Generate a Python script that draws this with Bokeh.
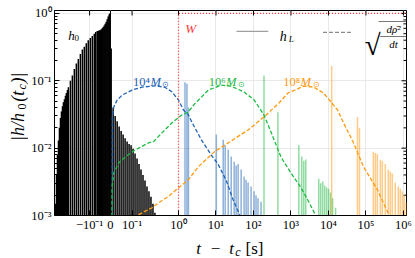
from math import log10, pi
from bokeh.plotting import figure
from bokeh.models import FixedTicker, Label
from bokeh.layouts import column, row
from bokeh.embed import file_html
from bokeh.resources import INLINE

# ---------------- data (t - t_c in s, |h/h0(t_c)|) ----------------
h0_t = [-0.543, -0.517, -0.492, -0.468, -0.446, -0.424, -0.404, -0.384, -0.366, -0.348,
        -0.331, -0.316, -0.300, -0.286, -0.259, -0.235, -0.213, -0.193, -0.175, -0.158,
        -0.143, -0.130, -0.118, -0.107, -0.0967, -0.0871, -0.0776, -0.0705, -0.0633, -0.0586,
        -0.0538, -0.0490, -0.0443, -0.0395, -0.0348, -0.0300, -0.0252, -0.0205, -0.0157,
        -0.0110, -0.0062, -0.0038, -0.0014,
        0.0032, 0.0124, 0.0217, 0.0309, 0.0401, 0.0493, 0.0585, 0.0677, 0.0770, 0.0862,
        0.0954, 0.1051, 0.1159, 0.1280, 0.1412, 0.1558, 0.1720, 0.1898, 0.2096, 0.2312,
        0.2552, 0.2817, 0.3108]
h0_h = [0.0015, 0.004, 0.008, 0.013, 0.02, 0.028, 0.035, 0.042, 0.048, 0.053,
        0.06, 0.066, 0.073, 0.08, 0.10, 0.12, 0.15, 0.18, 0.21, 0.25,
        0.29, 0.32, 0.36, 0.40, 0.43, 0.46, 0.50, 0.53, 0.55, 0.55,
        0.56, 0.56, 0.58, 0.60, 0.63, 0.66, 0.70, 0.75, 0.82,
        0.90, 0.96, 0.99, 1.0,
        0.3, 0.04, 0.03, 0.025, 0.021, 0.018, 0.016, 0.014, 0.0125, 0.0115,
        0.011, 0.0098, 0.0083, 0.007, 0.0058, 0.0048, 0.004, 0.0033, 0.0027, 0.0023,
        0.0019, 0.0015, 0.0011]

hL4_t = [1.49, 1.68, 1.84, 10.2, 15.6, 17.6, 21.2, 25.5, 30.6, 34.5, 39.0, 46.9, 56.3,
         63.6, 71.9, 86.3, 104, 117, 132, 159]
hL4_h = [0.095, 0.09, 0.04, 0.016, 0.0133, 0.011, 0.0095, 0.0075, 0.0063, 0.0055, 0.0058,
         0.0048, 0.0038, 0.0034, 0.0031, 0.0027, 0.0023, 0.0020, 0.0018, 0.0016]
hL6_t = [191, 449, 1620, 1945, 2200, 2485, 5500, 6210, 7020, 7930, 8960, 10100, 11400,
         12900, 15500]
hL6_h = [0.12, 0.034, 0.011, 0.0075, 0.0065, 0.0068, 0.0035, 0.003, 0.0032, 0.0028,
         0.0026, 0.0025, 0.0022, 0.0018, 0.0013]
hL8_t = [12200, 59500, 67300, 158000, 179000, 202000, 243000, 274000, 329000, 395000,
         447000, 505000, 606000, 728000, 822000, 929000, 1.05e6, 1.19e6]
hL8_h = [0.165, 0.029, 0.02, 0.0088, 0.0085, 0.0082, 0.0067, 0.0065, 0.0058, 0.0048,
         0.0045, 0.0042, 0.0031, 0.0027, 0.0025, 0.0023, 0.002, 0.0016]

rho4_t = [0.0069, 0.0088, 0.0157, 0.0309, 0.0539, 0.1, 0.1638, 0.3155, 0.5166, 0.7187, 1.0,
          1.357, 1.842, 2.3, 4.07, 7.50, 11.5, 18.8, 28.8, 41.5, 49.9]
rho4_h = [1e-4, 0.029, 0.0412, 0.0517, 0.0613, 0.0727, 0.0804, 0.0841, 0.0796, 0.0686, 0.0517,
          0.0368, 0.031, 0.024, 0.0133, 0.0079, 0.0057, 0.0033, 0.0017, 0.00107, 0.00082]
rho6_t = [0.0046, 0.0078, 0.0157, 0.0387, 0.0691, 0.1177, 0.2278, 0.2915, 0.4389, 0.7187,
          1.223, 1.842, 2.66, 6.25, 13.8, 25.5, 56.3, 104, 191, 293, 540, 994, 1830, 2810,
          4580, 5500]
rho6_h = [1e-4, 0.00268, 0.00432, 0.00607, 0.00744, 0.00944, 0.01198, 0.01252, 0.01683, 0.0236,
          0.031, 0.0347, 0.045, 0.0726, 0.0862, 0.083, 0.068, 0.052, 0.031, 0.0174, 0.0074,
          0.0043, 0.0026, 0.0017, 0.001, 0.00082]
rho8_t = [0.1159, 0.1392, 0.1927, 0.268, 0.373, 0.611, 1.0, 1.842, 3.39, 9.01, 25.5, 71.9, 191,
          478, 827, 2200, 4050, 7460, 17500, 25300, 46600, 85900, 202000, 420000, 505000]
rho8_h = [0.00087, 0.00103, 0.00116, 0.0013, 0.00154, 0.00193, 0.00257, 0.0034, 0.0053, 0.0088,
          0.0128, 0.0186, 0.029, 0.0467, 0.0656, 0.0832, 0.0804, 0.0656, 0.0368, 0.0237, 0.012,
          0.0053, 0.00242, 0.001, 0.0008]

W_t = [1.0, 1.0, 2.0e6]
W_h = [1e-4, 1.0, 1.0]

x_tick_t = [-0.1, 0.0, 0.1, 1, 10, 100, 1e3, 1e4, 1e5, 1e6]
x_tick_lab = ["−10⁻¹", "0", "10⁻¹", "10⁰", "10¹", "10²", "10³", "10⁴", "10⁵", "10⁶"]
y_ticks = [1e-3, 1e-2, 1e-1, 1.0]
y_tick_lab = ["10⁻³", "10⁻²", "10⁻¹", "10⁰"]


# ---------------- symmetric-log style x transform (pixels from t=0) ----------------
def symx(t):
    if t >= 1:
        return 68.4 + 37.7 * log10(t)
    if t >= 0.1:
        return 21.7 + 46.7 * log10(t / 0.1)
    if t >= 0:
        return 217.0 * t
    if t > -0.1:
        return 210.0 * t
    return -21.0 - 46.7 * log10(-t / 0.1)


def U(ts):
    return [symx(t) for t in ts]


SERIF = "Liberation Serif"
BLUE, GREEN, ORANGE, RED = "#1f63b4", "#1fba44", "#ff9a12", "#ff3b3b"
FLOOR = 1e-5
XMIN, XMAX, YMIN, YMAX = -56.3, 297.7, 1e-3, 1.104

# page layout: [ylabel strip 28px | main plot 387px] over an x-label strip
YL_W, MAIN_W, MAIN_H, XL_H = 28, 387, 234, 24

p = figure(width=MAIN_W, height=MAIN_H, x_range=(XMIN, XMAX), y_range=(YMIN, YMAX),
           y_axis_type="log", output_backend="svg", toolbar_location=None,
           min_border_left=24, min_border_right=9, min_border_top=10, min_border_bottom=18)
p.outline_line_color = "black"
p.outline_line_width = 1
p.background_fill_color = "white"

xt = U(x_tick_t)
xticker = FixedTicker(ticks=xt, minor_ticks=[])
minor_y = [m * 10.0 ** e for e in (-3, -2, -1) for m in range(2, 10)]
yticker = FixedTicker(ticks=y_ticks, minor_ticks=minor_y)

ax = p.xaxis[0]
ax.ticker = xticker
ax.major_label_overrides = {u: s for u, s in zip(xt, x_tick_lab)}
ay = p.yaxis[0]
ay.ticker = yticker
ay.major_label_overrides = {v: s for v, s in zip(y_ticks, y_tick_lab)}
for a in (ax, ay):
    a.major_tick_in = 5
    a.major_tick_out = 0
    a.minor_tick_in = 3
    a.minor_tick_out = 0
    a.major_label_text_font = SERIF
    a.major_label_text_font_size = "12.5px"
    a.major_label_text_color = "black"
    a.axis_line_color = "black"
    a.major_tick_line_color = "black"
    a.minor_tick_line_color = "black"
ax.major_label_standoff = 2
ay.major_label_standoff = 3

p.xgrid.ticker = xticker
p.ygrid.ticker = FixedTicker(ticks=y_ticks, minor_ticks=[])
for g in (p.xgrid[0], p.ygrid[0]):
    g.grid_line_color = "#e9e9e9"
    g.grid_line_width = 1


# ---------------- helpers for reference-pixel placement ----------------
def X(px):
    return px - 108.3


def Y(py):
    return 10 ** ((216.0 - py) / 67.7 - 3)


# mirrored inward ticks on top and right frame edges
p.segment(x0=xt, x1=xt, y0=YMAX, y1=Y(15), line_color="black", line_width=1)
p.segment(x0=XMAX, x1=XMAX - 5, y0=y_ticks, y1=y_ticks, line_color="black", line_width=1)
p.segment(x0=XMAX, x1=XMAX - 3, y0=minor_y, y1=minor_y, line_color="black", line_width=1)

# h0 waveform
p.segment(x0=U(h0_t), x1=U(h0_t), y0=FLOOR, y1=h0_h, line_color="black", line_width=1.5)

# h_L spikes
for ts, hs, c in ((hL4_t, hL4_h, BLUE), (hL6_t, hL6_h, GREEN), (hL8_t, hL8_h, ORANGE)):
    p.segment(x0=U(ts), x1=U(ts), y0=FLOOR, y1=hs, line_color=c, line_alpha=0.5, line_width=1.5)

# sqrt(d rho^2/dt)
for ts, hs, c in ((rho4_t, rho4_h, BLUE), (rho6_t, rho6_h, GREEN), (rho8_t, rho8_h, ORANGE)):
    p.line(U(ts), hs, line_color=c, line_width=1.3, line_dash="4 2")

# window W
p.line(U(W_t), W_h, line_color=RED, line_width=1.3, line_dash="1 2")

# legend keys (solid = h_L, dashed = sqrt(d rho^2/dt))
p.segment(x0=[X(235)], x1=[X(267)], y0=[Y(31)], y1=[Y(31)], line_color="#a0a0a0", line_width=1.3)
p.segment(x0=[X(322)], x1=[X(352)], y0=[Y(32)], y1=[Y(32)], line_color="#8a8a8a", line_width=1.3,
          line_dash="4 2")


def lab(fig, x, y, text, size, color="black", style="normal", align="center",
        baseline="alphabetic", angle=0.0):
    fig.add_layout(Label(x=x, y=y, text=text, text_font=SERIF,
                         text_font_size=f"{size}px", text_color=color, text_font_style=style,
                         text_align=align, text_baseline=baseline, angle=angle))


def plab(px, py, text, size, **kw):
    lab(p, X(px), Y(py), text, size, **kw)


# h0
plab(69, 35, "h", 13, style="italic")
plab(74.5, 38, "0", 9)
# h_L
plab(282, 36, "h", 14, style="italic")
plab(290, 39, "L", 9, style="italic")
# sqrt(d rho^2 / dt)
plab(372, 45, "√", 29)
plab(393, 20, "———", 10)
plab(393, 29, "dρ̄²", 11, style="italic")
plab(393, 34.5, "———", 9)
plab(393, 44, "dt", 11, style="italic")
# W
plab(189, 28, "W", 13, color=RED, style="italic")
# masses
for cx, c, e in ((151, BLUE, "⁴"), (227, GREEN, "⁶"), (302, ORANGE, "⁸")):
    plab(cx - 3, 82, "10" + e, 12.5, color=c, align="right")
    plab(cx - 2.5, 82, "M", 12.5, color=c, style="italic", align="left")
    plab(cx + 9.5, 84, "⊙", 8, color=c, align="left")


def strip(w, h):
    f = figure(width=w, height=h, x_range=(0, w), y_range=(0, h), output_backend="svg",
               toolbar_location=None, min_border=0, x_axis_location=None, y_axis_location=None)
    f.outline_line_color = None
    f.grid.visible = False
    f.background_fill_color = "white"
    return f


# y label strip (page y 0..MAIN_H): local y = MAIN_H - page y
yl = strip(YL_W, MAIN_H)


def ylab(px, py, text, size, **kw):
    lab(yl, px, MAIN_H - py, text, size, baseline="middle", angle=pi / 2, **kw)


ylab(17, 133, "|h/h", 18, style="italic")
ylab(21.5, 109.5, "0", 12)
ylab(17, 98, "(t", 18, style="italic")
ylab(21.5, 87, "c", 12, style="italic")
ylab(17, 77, ")|", 18, style="italic")

# x label strip (page y MAIN_H..MAIN_H+XL_H): local y = page bottom - page y
xl = strip(YL_W + MAIN_W, XL_H)
PB = MAIN_H + XL_H


def xlab(px, py, text, size, **kw):
    lab(xl, px, PB - py, text, size, **kw)


xlab(198, 248, "t", 17, style="italic")
xlab(215, 248, "−", 17)
xlab(231, 248, "t", 17, style="italic")
xlab(237.5, 251, "c", 12, style="italic")
xlab(254, 248, "[s]", 17)

layout = column(row(yl, p), xl)
open("out.html", "w").write(file_html(layout, INLINE))
